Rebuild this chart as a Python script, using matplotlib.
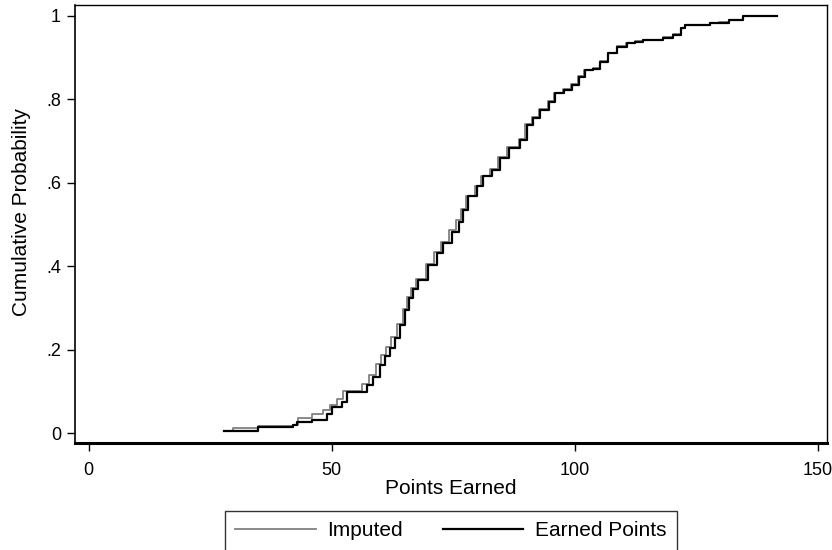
import matplotlib
matplotlib.use('Agg')
import matplotlib.pyplot as plt

plt.rcParams['font.family'] = ['Liberation Sans', 'DejaVu Sans']

# step points (x = points, y = cumulative probability)
earned_x = [27.9, 34.9, 42.0, 42.8, 45.9, 49.0, 50.0, 52.1, 53.1, 57.2,
            58.5, 60.0, 61.0, 62.0, 63.0, 64.1, 65.1, 65.9, 66.8, 67.8,
            69.9, 71.6, 73.0, 74.7, 76.1, 77.1, 78.1, 79.9, 81.2, 82.9,
            84.7, 86.4, 88.8, 90.1, 91.5, 92.9, 94.6, 96.0, 97.7, 99.4,
            100.8, 102.1, 103.8, 105.2, 106.9, 108.7, 110.7, 112.4, 114.1, 118.2,
            120.3, 121.8, 122.7, 127.9, 129.6, 131.8, 134.7, 141.6]
earned_y = [.005, .015, .019, .026, .031, .046, .063, .075, .099, .115,
            .135, .163, .185, .204, .228, .259, .295, .324, .345, .367,
            .403, .431, .455, .483, .507, .535, .567, .591, .615, .631,
            .659, .683, .703, .739, .755, .775, .794, .815, .823, .835,
            .854, .869, .872, .890, .911, .926, .935, .938, .942, .947,
            .954, .970, .978, .983, .984, .989, 1.0, 1.0]

imputed_x = [27.9, 29.7, 34.9, 42.0, 43.1, 45.9, 48.2, 49.6, 51.0, 52.4,
             56.3, 57.6, 59.1, 60.2, 61.2, 62.3, 63.4, 64.6, 65.4, 66.4,
             67.3, 69.4, 71.0, 72.4, 74.1, 75.5, 76.7, 77.7, 79.5, 80.8,
             82.6, 84.3, 86.1, 88.5, 89.8, 91.2, 92.6, 94.4, 95.8, 97.5,
             99.2, 100.7, 102.0, 103.7, 105.1, 106.8, 108.6, 110.6, 112.3, 114.1,
             118.2, 120.3, 121.8, 122.7, 127.9, 129.6, 131.8, 134.7, 141.6]
imputed_y = [.005, .013, .016, .020, .036, .046, .055, .068, .082, .100,
             .118, .139, .166, .188, .207, .231, .262, .298, .327, .348,
             .370, .406, .434, .458, .486, .510, .538, .569, .593, .617,
             .633, .661, .685, .705, .740, .757, .777, .796, .816, .825,
             .837, .856, .870, .874, .891, .912, .927, .936, .939, .943,
             .949, .956, .971, .978, .983, .985, .990, 1.0, 1.0]

xticks = [0, 50, 100, 150]
yticks = [0, .2, .4, .6, .8, 1]
ytick_labels = ['0', '.2', '.4', '.6', '.8', '1']

fig = plt.figure(figsize=(8.32, 5.5), dpi=100)
ax = fig.add_axes([0.0901, 0.1945, 0.904, 0.7964])

ax.plot(imputed_x, imputed_y, drawstyle='steps-post', color='#808080', lw=1.3, label='Imputed')
ax.plot(earned_x, earned_y, drawstyle='steps-post', color='black', lw=1.6, label='Earned Points')

ax.set_xlim(-2.8, 151.9)
ax.set_ylim(-0.024, 1.026)
ax.set_xticks(xticks)
ax.set_xticklabels([str(t) for t in xticks])
ax.set_yticks(yticks)
ax.set_yticklabels(ytick_labels)
ax.tick_params(direction='out', length=6, width=1, labelsize=13, pad=4)
ax.tick_params(axis='x', pad=8)

for s in ['top', 'right']:
    ax.spines[s].set_linewidth(1.0)
ax.spines['left'].set_linewidth(1.2)
ax.spines['bottom'].set_linewidth(2.2)

ax.set_xlabel('Points Earned', fontsize=15, labelpad=0)
ax.set_ylabel('Cumulative Probability', fontsize=15)
ax.yaxis.set_label_coords(-0.058, 0.527)

leg = fig.legend(loc='upper center', bbox_to_anchor=(0.542, 0.0709), ncol=2,
                 fontsize=15, frameon=True, fancybox=False, edgecolor='black',
                 handlelength=3.85, handletextpad=0.58, columnspacing=1.9,
                 borderaxespad=0, borderpad=0.5)
leg.get_frame().set_linewidth(1.0)

plt.savefig('out.png', dpi=100)
